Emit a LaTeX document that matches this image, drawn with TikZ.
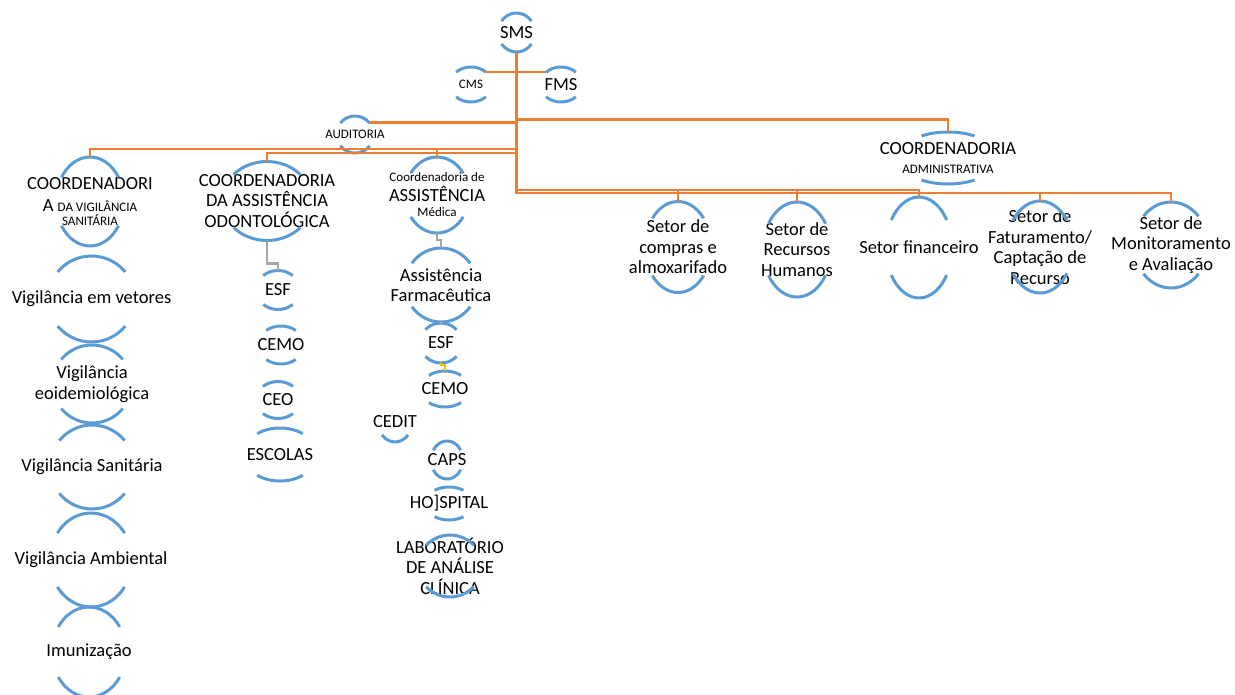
\documentclass[tikz,border=0pt]{standalone}
\usepackage{fontspec}
\setmainfont{Carlito}
\usetikzlibrary{calc}

\definecolor{ringblue}{HTML}{5B9BD5}
\definecolor{lineorange}{HTML}{ED7D31}
\definecolor{linegrey}{HTML}{A5A5A5}
\definecolor{lineyellow}{HTML}{FFC000}

\newcommand{\sm}{\fontsize{13}{14}\selectfont}
% node name, x radius, y radius, angle where the arcs stop
\newcommand{\arcpair}[4]{%
    \coordinate (#1-t) at ($(#1.center)+(0,#3)$);
    \coordinate (#1-b) at ($(#1.center)+(0,-#3)$);
    \draw[arcline] ($(#1.center)+(#4:#2 and #3)$) arc[start angle=#4, end angle=180-#4, x radius=#2, y radius=#3];
    \draw[arcline] ($(#1.center)+(180+#4:#2 and #3)$) arc[start angle=180+#4, end angle=360-#4, x radius=#2, y radius=#3];
}

\begin{document}
\begin{tikzpicture}[x=1pt, y=1pt]
    \tikzstyle{txt}=[font=\fontsize{18.5}{20.5}\selectfont, align=center, inner sep=0pt]
    \tikzstyle{smalltxt}=[font=\fontsize{13}{14}\selectfont, align=center, inner sep=0pt]
    \tikzstyle{arcline}=[draw=ringblue, line width=3pt]
    \tikzstyle{orangeline}=[draw=lineorange, line width=2.9pt]
    \tikzstyle{greyline}=[draw=linegrey, line width=2.7pt]
    \tikzstyle{yellowline}=[draw=lineyellow, line width=2.7pt]

    \useasboundingbox (0,0) rectangle (1235,-694);

    % Top: SMS, CMS, FMS, Auditoria
    \node[txt] (sms) at (516.5,-32.5) {SMS};
    \node[smalltxt] (cms) at (471,-84.5) {CMS};
    \node[txt] (fms) at (561,-84.5) {FMS};
    \node[smalltxt] (aud) at (355,-134.5) {AUDITORIA};
    \node[txt] (adm) at (948,-158) {COORDENADORIA\\[-1.5pt]{\sm ADMINISTRATIVA}};

    \arcpair{sms}{18.5}{19.5}{36}
    \arcpair{cms}{21}{17.5}{45}
    \arcpair{fms}{21}{17.5}{45}
    \arcpair{aud}{18.6}{18.5}{38}
    \arcpair{adm}{50}{26}{58}

    % Coordenadorias
    \node[txt] (vig) at (90,-201.5) {COORDENADORI\\[1.5pt]A {\sm DA VIGILÂNCIA}\\[-6.8pt]{\sm SANITÁRIA}};
    \node[txt] (odo) at (267,-201) {COORDENADORIA\\DA ASSISTÊNCIA\\ODONTOLÓGICA};
    \node[txt] (med) at (437,-195) {{\sm Coordenadoria de}\\[-0.5pt]ASSISTÊNCIA\\[-5.5pt]{\sm Médica}};

    \arcpair{vig}{34}{44.5}{33}
    \arcpair{odo}{45}{39.5}{42}
    \arcpair{med}{32}{38}{35}

    % Vigilancia column
    \node[txt] (vet) at (91.5,-299) {Vigilância em vetores};
    \node[txt] (epi) at (92,-384) {Vigilância\\eoidemiológica};
    \node[txt] (san) at (92,-467) {Vigilância Sanitária};
    \node[txt] (amb) at (91,-560) {Vigilância Ambiental};
    \node[txt] (imu) at (89,-652) {Imunização};

    \arcpair{vet}{43.5}{43}{39}
    \arcpair{epi}{39.6}{39}{39}
    \arcpair{san}{42}{42}{39}
    \arcpair{amb}{41}{47}{35}
    \arcpair{imu}{37}{45}{34}

    % Odontologica column
    \node[txt] (esf1) at (278,-290) {ESF};
    \node[txt] (cemo1) at (281,-345) {CEMO};
    \node[txt] (ceo) at (278,-400) {CEO};
    \node[txt] (esc) at (280,-454.5) {ESCOLAS};

    \arcpair{esf1}{22}{19.5}{48}
    \arcpair{cemo1}{23}{19}{50}
    \arcpair{ceo}{22}{18.5}{47}
    \arcpair{esc}{37}{26.5}{52}

    % Medica column
    \node[txt] (farm) at (441,-285) {Assistência\\Farmacêutica};
    \node[txt] (esf2) at (441,-343) {ESF};
    \node[txt] (cemo2) at (445,-389) {CEMO};
    \node[txt] (cedit) at (395,-422) {CEDIT};
    \node[txt] (caps) at (447,-460) {CAPS};
    \node[txt] (hosp) at (449,-503.5) {HO]SPITAL};
    \node[txt] (lab) at (450,-566) {LABORATÓRIO\\DE ANÁLISE\\CLÍNICA};

    \arcpair{farm}{36}{37}{36}
    \arcpair{esf2}{21}{20}{42}
    \arcpair{cemo2}{24.6}{18}{49}
    \draw[arcline] ($(cedit.center)+(220:17 and 20)$) arc[start angle=220, end angle=320, x radius=17, y radius=20];
    \arcpair{caps}{16}{19}{31}
    \arcpair{hosp}{24}{16.5}{53}
    \arcpair{lab}{32}{31}{42}

    % Setores
    \node[txt] (comp) at (678,-247) {Setor de\\compras e\\almoxarifado};
    \node[txt] (rh) at (797,-249.5) {Setor de\\Recursos\\Humanos};
    \node[txt] (fin) at (919,-247.5) {Setor financeiro};
    \node[txt] (fat) at (1040,-247) {Setor de\\Faturamento/\\Captação de\\Recurso};
    \node[txt] (mon) at (1171,-245) {Setor de\\Monitoramento\\e Avaliação};

    \arcpair{comp}{33}{45.5}{39}
    \arcpair{rh}{34}{47.5}{33}
    \arcpair{fin}{33}{50.5}{33}
    \arcpair{fat}{33}{46}{35}
    \arcpair{mon}{37}{43}{42}

    % Connectors
    \coordinate (busA) at (0,-190);
    \coordinate (busB) at (0,-193);

    \draw[orangeline] ($(cms.center)+(15,12.5)$) -- ($(fms.center)+(-15,12.5)$);
    \draw[orangeline] ($(aud.center)+(14,12)$) -| (sms-b);
    \draw[orangeline] (sms-b) |- ($(adm-t)+(0,12.5)$) -- (adm-t);
    \draw[orangeline] (sms-b) |- ($(vig-t)+(0,8)$) -- (vig-t);
    \draw[orangeline] (sms-b) |- ($(odo-t)+(0,8.5)$) -- (odo-t);
    \draw[orangeline] (sms-b) |- ($(med-t)+(0,8)$) -- (med-t);
    \draw[orangeline] (sms-b) |- (busA -| comp-t) -- (comp-t);
    \draw[orangeline] (sms-b) |- (busA -| rh-t) -- (rh-t);
    \draw[orangeline] (sms-b) |- (busA -| fin-t) -- (fin-t);
    \draw[orangeline] (sms-b) |- (busB -| fat-t) -- (fat-t);
    \draw[orangeline] (sms-b) |- (busB -| mon-t) -- (mon-t);

    \draw[greyline] (odo-b) |- ($(esf1-t)+(0,7)$) -- (esf1-t);
    \draw[greyline] (med-b) |- ($(farm-t)+(0,8)$) -- (farm-t);

    \draw[yellowline] (farm-b) -- (esf2-t);
    \draw[yellowline] (esf2-b) |- ($(cemo2-t)+(0,6)$) -- (cemo2-t);
\end{tikzpicture}
\end{document}
